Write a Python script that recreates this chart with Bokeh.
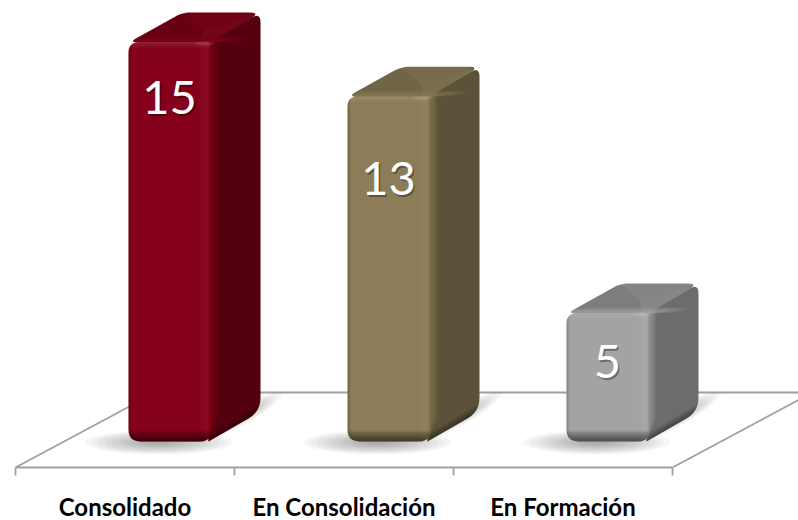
import numpy as np
from bokeh.plotting import figure
from bokeh.models import ColumnDataSource, Range1d, LinearAxis, FixedTicker
from bokeh.core.properties import value as bk_value
from bokeh.embed import file_html
from bokeh.resources import INLINE

categories = ["Consolidado", "En Consolidación", "En Formación"]
values = [15, 13, 5]
front_colors = ["#85001b", "#8c7d58", "#a3a3a3"]
side_colors = ["#55000e", "#5c5239", "#6c6c6c"]
top_colors = ["#6f0015", "#776b4b", "#858585"]
label_values = [12.98, 9.97, 3.24]

PX = 219.0
PY = 27.1
BASE = 0.28
BAR_START = 0.516
W = 82.0
DX = 50.0
DY = 30.0


def X(i, off):
    return i + BAR_START + np.asarray(off, dtype=float) / PX


def Y(v, off):
    return v - np.asarray(off, dtype=float) / PY


def rounded(pts, r):
    """Round the corners of a polygon given as (x, y) pairs in pixel offsets."""
    if np.isscalar(r):
        r = [r] * len(pts)
    out = []
    n = len(pts)
    for k in range(n):
        p = np.array(pts[k], float)
        a = np.array(pts[k - 1], float)
        b = np.array(pts[(k + 1) % n], float)
        if r[k] <= 0:
            out.append(p)
            continue
        u = (a - p) / np.linalg.norm(a - p)
        v = (b - p) / np.linalg.norm(b - p)
        s = p + u * r[k]
        e = p + v * r[k]
        for t in np.linspace(0, 1, 7):
            out.append((1 - t) ** 2 * s + 2 * t * (1 - t) * p + t ** 2 * e)
    return np.array(out)


def ellipse(cx, cy, a, b, ang=0.0):
    t = np.linspace(0, 2 * np.pi, 40)
    x, y = a * np.cos(t), b * np.sin(t)
    c, s = np.cos(ang), np.sin(ang)
    return np.column_stack([cx + x * c - y * s, cy + x * s + y * c])


xs, ys, fc, fa = [], [], [], []


def add(i, v, pts, color, alpha=1.0):
    xs.append(list(X(i, pts[:, 0])))
    ys.append(list(Y(v, pts[:, 1])))
    fc.append(color)
    fa.append(alpha)


for i, v in enumerate(values):
    H = (v - BASE) * PY

    # soft floor shadow
    for k in range(10):
        g = 1 - k / 10
        add(i, BASE, ellipse(30, 1, 68 * g + 6, 11 * g + 1), "#000000", 0.034)
        add(i, BASE, ellipse(114, -26, 42 * g + 4, 8 * g + 1, -0.52), "#000000", 0.026)

    front = rounded([(0, 0), (W, 0), (W, H), (0, H)], [10, 4, 10, 12])
    side = rounded([(W - 2, 0), (W + DX, -DY), (W + DX, H - DY), (W - 2, H)], [0, 10, 14, 0])
    top = rounded([(0, 0), (DX + 4, -DY), (W + DX, -DY), (W, 0)], [10, 8, 11, 0])

    # side face
    add(i, v, side, side_colors[i])
    for k in range(8):
        c = side.copy()
        c[:, 0] = np.clip(c[:, 0], W - 2, W + 8 - k)
        add(i, v, c, front_colors[i], 0.13)
    for k in range(5):
        c = side.copy()
        c[:, 1] = np.clip(c[:, 1] + (c[:, 0] - W) * DY / DX, H - 8 + 1.5 * k, H)
        c[:, 1] -= (c[:, 0] - W) * DY / DX
        add(i, v, c, "#000000", 0.08)

    # top face
    add(i, v, top, top_colors[i])
    add(i, v, rounded([(0, 0), (DX + 4, -DY), (DX + 24, -12), (W - 8, 0)], [10, 8, 0, 0]), "#000000", 0.055)
    add(i, v, np.array([(W - 8, 0), (DX + 24, -12), (W + DX - 6, -DY + 2), (W, 0)], float), "#ffffff", 0.02)
    for k in range(6):
        c = top.copy()
        c[:, 1] = np.clip(c[:, 1], -6 + k, 0)
        add(i, v, c, front_colors[i], 0.22)
    for k in range(4):
        c = top.copy()
        c[:, 0] = np.clip(c[:, 0], W + DX - 8 + 2 * k, W + DX)
        add(i, v, c, side_colors[i], 0.2)

    # front face with bevels
    add(i, v, front, front_colors[i])
    for k in range(6):
        c = front.copy()
        c[:, 0] = np.clip(c[:, 0], W - 12 + k * 2, W - 2)
        add(i, v, c, "#ffffff", 0.012)
    for k in range(5):
        c = front.copy()
        c[:, 1] = np.clip(c[:, 1], 0, 6 - k)
        add(i, v, c, "#ffffff", 0.018)
    for k in range(7):
        c = front.copy()
        c[:, 1] = np.clip(c[:, 1], H - 11 + k * 1.5, H)
        add(i, v, c, "#000000", 0.09)
    for k in range(3):
        c = front.copy()
        c[:, 0] = np.clip(c[:, 0], 0, 3 - k)
        add(i, v, c, "#000000", 0.06)
    # highlight at the front corner
    add(i, v, ellipse(W - 6, 1, 10, 2), "#ffffff", 0.10)

FRAME_H = 467
FRAME_L = 15
FRAME_W = 783
p = figure(
    width=798, height=520, output_backend="svg", toolbar_location=None,
    x_range=Range1d(0, FRAME_W / PX),
    y_range=Range1d(-18.5 / PY, 448.5 / PY),
    x_axis_type=None, y_axis_type=None,
    min_border=0, min_border_left=FRAME_L, outline_line_color=None,
    background_fill_color="white", border_fill_color="white",
    styles={"position": "absolute", "left": "0px", "top": "0px"},
)
p.frame_height = FRAME_H
p.frame_width = FRAME_W
p.grid.visible = False

# floor outline
FLOOR = "#a0a0a0"
back_v = -18.5 / PY + 75.0 / PY
slant_x = 140.0 / PX
p.line([0, slant_x], [-18.5 / PY, back_v], line_color=FLOOR, line_width=1.8)
p.line([3, 3 + slant_x], [-18.5 / PY, back_v], line_color=FLOOR, line_width=1.8)
p.line([slant_x, FRAME_W / PX], [back_v, back_v], line_color=FLOOR, line_width=1.8)

axis = LinearAxis(
    ticker=FixedTicker(ticks=[0.5, 1.5, 2.5], minor_ticks=[0, 1, 2, 3]),
    major_label_overrides={0.5: categories[0], 1.5: categories[1], 2.5: categories[2]},
    bounds=(0, 3),
    axis_line_color=FLOOR, axis_line_width=1.8,
    major_tick_line_color=None, major_tick_out=0, major_tick_in=0,
    minor_tick_line_color=FLOOR, minor_tick_line_width=1.8, minor_tick_out=8, minor_tick_in=0,
    major_label_standoff=16,
    major_label_text_font="Lato", major_label_text_font_style="bold",
    major_label_text_font_size="24px", major_label_text_color="#000000",
)
p.add_layout(axis, "below")

src = ColumnDataSource(dict(xs=xs, ys=ys, fc=fc, fa=fa))
p.patches("xs", "ys", source=src, fill_color="fc", fill_alpha="fa", line_color=None)

lx = [i + BAR_START + (W / 2) / PX for i in range(3)]
txt = [str(v) for v in values]
p.text(np.array(lx) + 1.5 / PX, np.array(label_values) - 2 / PY, text=txt, text_color="#000000", text_alpha=0.35,
       text_font=bk_value("Lato"), text_font_size="47px", text_align="center", text_baseline="middle")
p.text(lx, label_values, text=txt, text_color="#ffffff",
       text_font=bk_value("Lato"), text_font_size="47px", text_align="center", text_baseline="middle")

open("out.html", "w").write(file_html(p, INLINE))
